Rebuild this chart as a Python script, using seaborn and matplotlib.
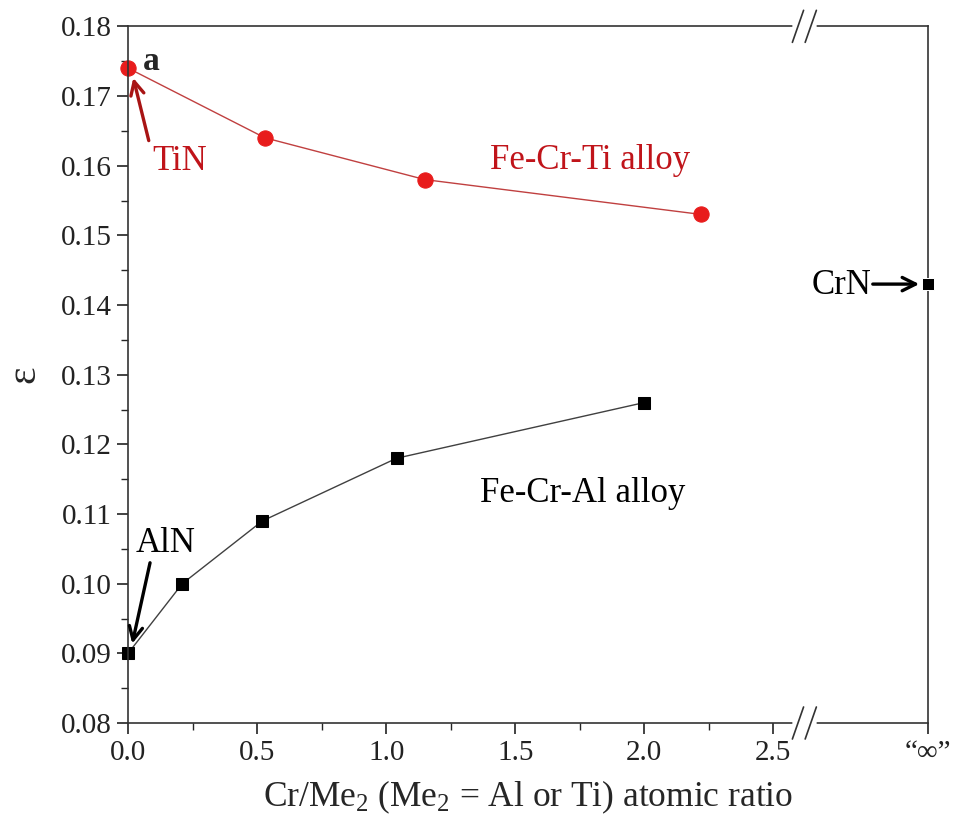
import numpy as np
import pandas as pd
import matplotlib
matplotlib.use("Agg")
import matplotlib.pyplot as plt
from matplotlib.ticker import MultipleLocator, FixedLocator
import seaborn as sns

# data
ti_ratio = [0.0, 0.53, 1.15, 2.22]
ti_eps = [0.174, 0.164, 0.158, 0.153]
al_ratio = [0.0, 0.21, 0.52, 1.04, 2.0]
al_eps = [0.090, 0.100, 0.109, 0.118, 0.126]
crn_ratio = [3.1]   # plotted at the "infinity" position
crn_eps = [0.143]

x_ticks = [0.0, 0.5, 1.0, 1.5, 2.0, 2.5, 3.1]
x_ticklabels = ["0.0", "0.5", "1.0", "1.5", "2.0", "2.5", "\u201c\u221e\u201d"]
y_ticks = [0.08, 0.09, 0.10, 0.11, 0.12, 0.13, 0.14, 0.15, 0.16, 0.17, 0.18]

sns.set_style("ticks")
plt.rcParams["font.family"] = ["Liberation Serif", "DejaVu Serif"]
plt.rcParams["mathtext.fontset"] = "custom"
plt.rcParams["mathtext.rm"] = "Liberation Serif"
plt.rcParams["mathtext.it"] = "Liberation Serif:italic"

fig = plt.figure(figsize=(9.56, 8.23), dpi=100)
ax = fig.add_axes([0.134, 0.1215, 0.837, 0.8465])

ti = pd.DataFrame({"ratio": ti_ratio, "eps": ti_eps})
al = pd.DataFrame({"ratio": al_ratio, "eps": al_eps})
crn = pd.DataFrame({"ratio": crn_ratio, "eps": crn_eps})

sns.lineplot(data=ti, x="ratio", y="eps", ax=ax, color="#c04040", lw=1.0,
             marker="o", markersize=11, markerfacecolor="#e81c1c",
             markeredgecolor="#e81c1c", clip_on=False)
sns.lineplot(data=al, x="ratio", y="eps", ax=ax, color="#404040", lw=1.0,
             marker="s", markersize=9, markerfacecolor="black",
             markeredgecolor="black", clip_on=False)
sns.scatterplot(data=crn, x="ratio", y="eps", ax=ax, color="black",
                marker="s", s=80, clip_on=False, zorder=5)

ax.set_xlim(0, 3.1)
ax.set_ylim(0.08, 0.18)
ax.xaxis.set_major_locator(FixedLocator(x_ticks))
ax.set_xticklabels(x_ticklabels)
ax.xaxis.set_minor_locator(FixedLocator([0.25, 0.75, 1.25, 1.75, 2.25]))
ax.yaxis.set_major_locator(FixedLocator(y_ticks))
ax.yaxis.set_minor_locator(MultipleLocator(0.005))
ax.yaxis.set_major_formatter(matplotlib.ticker.FormatStrFormatter("%.2f"))

ax.tick_params(axis="both", which="major", direction="out", length=8,
               width=1.2, labelsize=21, colors="#222222", pad=4)
ax.tick_params(axis="both", which="minor", direction="out", length=5, width=1.0)
for s in ax.spines.values():
    s.set_linewidth(1.2)
    s.set_color("#333333")

ax.set_xlabel("Cr/Me$_2$ (Me$_2$ = Al or Ti) atomic ratio", fontsize=25.5, labelpad=9)
ax.set_ylabel("\u03b5", fontsize=30, labelpad=12)

# annotations
arrow_red = dict(arrowstyle="->", color="#a81414", lw=2.4, mutation_scale=24,
                 shrinkA=0, shrinkB=0)
arrow_blk = dict(arrowstyle="->", color="black", lw=2.4, mutation_scale=24,
                 shrinkA=0, shrinkB=0)

ax.text(0.058, 0.1750, "a", fontsize=24, fontweight="bold", ha="left", va="center")
ax.annotate("", xy=(0.02, 0.1726), xytext=(0.08, 0.1636), arrowprops=arrow_red)
ax.text(0.20, 0.1606, "TiN", fontsize=25, color="#c0141a", ha="center", va="center")
ax.text(1.79, 0.1608, "Fe-Cr-Ti alloy", fontsize=25, color="#c0141a",
        ha="center", va="center")
ax.text(1.76, 0.1130, "Fe-Cr-Al alloy", fontsize=25, color="black",
        ha="center", va="center")
ax.annotate("", xy=(0.016, 0.0914), xytext=(0.085, 0.1030), arrowprops=arrow_blk)
ax.text(0.145, 0.1058, "AlN", fontsize=25, color="black", ha="center", va="center")
ax.text(2.88, 0.1428, "CrN", fontsize=25, color="black", ha="right", va="center")
ax.annotate("", xy=(3.065, 0.143), xytext=(2.885, 0.143), arrowprops=arrow_blk)

# axis break marks on top and bottom spines
bx = 2.62 / 3.1
for yy in (0.0, 1.0):
    ax.plot([bx - 0.012, bx + 0.012], [yy, yy], transform=ax.transAxes,
            color="white", lw=4, clip_on=False, zorder=6)
    for dx in (-0.008, 0.008):
        ax.plot([bx + dx - 0.007, bx + dx + 0.007], [yy - 0.023, yy + 0.023],
                transform=ax.transAxes, color="#333333", lw=1.2,
                clip_on=False, zorder=7)

fig.savefig("out.png", dpi=100)
